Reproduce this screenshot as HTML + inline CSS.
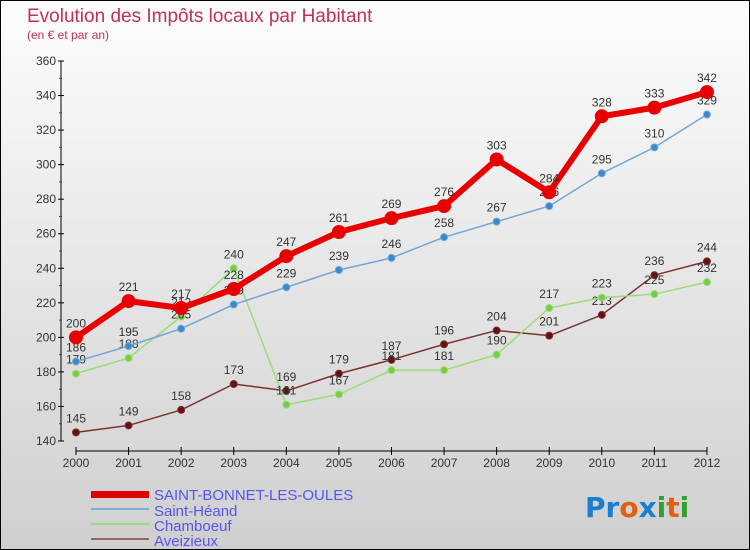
<!DOCTYPE html>
<html><head><meta charset="utf-8"><style>
body{margin:0}
#c{width:748px;height:548px;border:1px solid #000;background:linear-gradient(#fdfdfd,#cfcfcf);position:relative;overflow:hidden;font-family:"Liberation Sans",sans-serif}
</style></head><body>
<div id="c">
<svg id="s" width="748" height="548" xmlns="http://www.w3.org/2000/svg">
<text x="26" y="21" font-size="19" fill="#c0305a">Evolution des Impôts locaux par Habitant</text>
<text x="26" y="38" font-size="12" fill="#c0305a">(en € et par an)</text>
<g id="g"></g>
<g>
<rect x="90" y="490" width="58" height="7" fill="#e00000"/>
<text x="153" y="499" font-size="15" fill="#5555ee">SAINT-BONNET-LES-OULES</text>
<rect x="90" y="507" width="58" height="2" fill="#7ab0d8"/>
<text x="153" y="515" font-size="15" fill="#5555ee">Saint-Héand</text>
<rect x="90" y="522" width="58" height="2" fill="#99dd77"/>
<text x="153" y="530" font-size="15" fill="#5555ee">Chamboeuf</text>
<rect x="90" y="537" width="58" height="2" fill="#996666"/>
<text x="153" y="545" font-size="15" fill="#5555ee">Aveizieux</text>
</g>
<g font-size="28" font-family="DejaVu Sans, sans-serif" font-weight="bold">
<text x="584" y="516"><tspan fill="#1a7fd0">Pr</tspan><tspan fill="#e06010">o</tspan><tspan fill="#1a7fd0">x</tspan><tspan fill="#30a030">i</tspan><tspan fill="#e06010">t</tspan><tspan fill="#30a030">i</tspan></text>
</g>
</svg></div>
<script>
const years=["2000","2001","2002","2003","2004","2005","2006","2007","2008","2009","2010","2011","2012"];
const yTicks=[140,160,180,200,220,240,260,280,300,320,340,360];
const sbValues=[200,221,217,228,247,261,269,276,303,284,328,333,342];
const shValues=[186,195,205,219,229,239,246,258,267,276,295,310,329];
const chValues=[179,188,212,240,161,167,181,181,190,217,223,225,232];
const avValues=[145,149,158,173,169,179,187,196,204,201,213,236,244];
const NS="http://www.w3.org/2000/svg";
const g=document.getElementById('g');
const xS=i=>75+i*52.58;
const yS=v=>440-(v-140)*380/220;
function mk(t,a){const e=document.createElementNS(NS,t);for(const k in a)e.setAttribute(k,a[k]);g.appendChild(e);return e;}
let ax=mk('line',{x1:60,y1:60,x2:60,y2:440,stroke:'#000'});


ax=mk('line',{x1:75,y1:450,x2:706,y2:450,stroke:'#000'});


yTicks.forEach((v,i)=>{
 let t=mk('line',{x1:57,x2:63,y1:yS(v),y2:yS(v),stroke:'#000'});
 
 
 if(i<yTicks.length-1){let m=mk('line',{x1:58,x2:61,y1:yS(v+10),y2:yS(v+10),stroke:'#e00'});
 
 }
 let l=mk('text',{x:55,y:yS(v)+4,'font-size':12,fill:'#333','text-anchor':'end'});l.textContent=v;
 
 
});
years.forEach((y,i)=>{
 let t=mk('line',{x1:xS(i),x2:xS(i),y1:446,y2:454,stroke:'#000'});
 
 
 let l=mk('text',{x:xS(i),y:466,'font-size':12,fill:'#333','text-anchor':'middle'});l.textContent=y;
 
 
});
function series(vals,name,col,dot,w,r){
 const pts=vals.map((v,i)=>xS(i)+','+yS(v)).join(' ');
 let p=mk('polyline',{points:pts,fill:'none',stroke:col,'stroke-width':w,'stroke-linejoin':'round'});
 
 
 vals.forEach((v,i)=>{
  let c=mk('circle',{cx:xS(i),cy:yS(v),r:r,fill:dot,stroke:col,'stroke-width':1});
  
  
  let l=mk('text',{x:xS(i),y:yS(v)-10,'font-size':12,fill:'#333','text-anchor':'middle'});l.textContent=v;
  
  
 });
}
series(avValues,'aveizieux','#7a3333','#661111',1.5,3.5);
series(chValues,'chamboeuf','#99dd77','#77cc44',1.5,3.5);
series(shValues,'saint-heand','#6fa8d8','#3d88c8',1.5,3.5);
series(sbValues,'saint-bonnet','#e80000','#e80000',6,6.5);
</script>
</body></html>
